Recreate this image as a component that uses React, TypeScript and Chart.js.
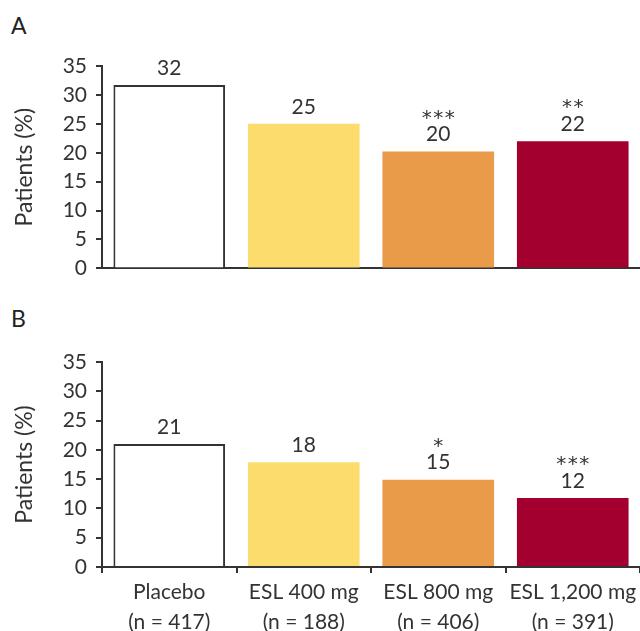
import React, { useEffect, useRef } from "react";
import { Chart, registerables } from "chart.js";

Chart.register(...registerables);

const categories: string[][] = [
  ["Placebo", "(n = 417)"],
  ["ESL 400 mg", "(n = 188)"],
  ["ESL 800 mg", "(n = 406)"],
  ["ESL 1,200 mg", "(n = 391)"],
];
const panelAValues = [31.7, 25, 20.2, 22];
const panelALabels = ["32", "25", "20", "22"];
const panelAStars = ["", "", "***", "**"];
const panelBValues = [21, 17.9, 14.9, 11.8];
const panelBLabels = ["21", "18", "15", "12"];
const panelBStars = ["", "", "*", "***"];
const barColors = ["#FFFFFF", "#FDDC6E", "#EA9B49", "#A3002F"];
const barBorderColors = ["#333333", "#FDDC6E", "#EA9B49", "#A3002F"];
const barBorderWidths = [2, 0, 0, 0];
const yMin = 0;
const yMax = 35;
const yStep = 5;
const yTitle = "Patients (%)";

const FONT = "Lato, 'Open Sans', sans-serif";
const INK = "#333333";

function makeLabelPlugin(labels: string[], stars: string[]) {
  return {
    id: "valueLabels",
    afterDatasetsDraw(chart: any) {
      const ctx = chart.ctx;
      const meta = chart.getDatasetMeta(0);
      ctx.save();
      ctx.textAlign = "center";
      ctx.fillStyle = INK;
      meta.data.forEach((bar: any, i: number) => {
        const x = bar.x;
        const y = bar.y;
        ctx.textBaseline = "middle";
        ctx.font = `21px ${FONT}`;
        ctx.fillText(labels[i], x, y - 17);
        const s = stars[i];
        if (s) {
          ctx.font = `20px 'DejaVu Sans', sans-serif`;
          ctx.textBaseline = "alphabetic";
          const n = s.length;
          for (let k = 0; k < n; k++) {
            const sx = x + (k - (n - 1) / 2) * 11.5;
            ctx.fillText(s[k], sx, y - 38 + 20 * 0.5);
          }
        }
      });
      ctx.restore();
    },
  };
}

function makeConfig(
  values: number[],
  labels: string[],
  stars: string[],
  showX: boolean,
  topPad: number,
  xHeight: number
): any {
  return {
    type: "bar",
    data: {
      labels: categories,
      datasets: [
        {
          data: values,
          backgroundColor: barColors,
          borderColor: barBorderColors,
          borderWidth: barBorderWidths,
          categoryPercentage: 1,
          barPercentage: 0.83,
        },
      ],
    },
    options: {
      responsive: false,
      animation: false,
      layout: { padding: { top: topPad, left: 0, right: 0, bottom: 0 } },
      plugins: {
        legend: { display: false },
        tooltip: { enabled: false },
        title: { display: false },
      },
      scales: {
        x: {
          offset: true,
          grid: {
            offset: true,
            drawOnChartArea: false,
            drawTicks: showX,
            tickLength: 6,
            color: INK,
            lineWidth: 2,
          },
          border: { display: true, color: INK, width: 2 },
          ticks: {
            display: showX,
            color: INK,
            font: { family: FONT, size: 21, lineHeight: 1.4 },
            padding: 5,
            maxRotation: 0,
            autoSkip: false,
          },
          afterFit: (s: any) => {
            s.height = xHeight;
            s.paddingLeft = 0;
            s.paddingRight = 0;
          },
        },
        y: {
          min: yMin,
          max: yMax,
          grid: {
            drawOnChartArea: false,
            drawTicks: true,
            tickLength: 6,
            color: INK,
            lineWidth: 2,
          },
          border: { display: true, color: INK, width: 2 },
          ticks: {
            stepSize: yStep,
            color: INK,
            font: { family: FONT, size: 21 },
            padding: 9,
          },
          title: {
            display: true,
            text: yTitle,
            color: INK,
            font: { family: FONT, size: 23 },
            padding: { top: 11, bottom: 0 },
          },
          afterFit: (s: any) => {
            s.width = 102;
          },
        },
      },
    },
    plugins: [makeLabelPlugin(labels, stars)],
  };
}

function Panel(props: {
  top: number;
  height: number;
  values: number[];
  labels: string[];
  stars: string[];
  showX: boolean;
  topPad: number;
  xHeight: number;
}) {
  const ref = useRef<HTMLCanvasElement>(null);
  useEffect(() => {
    if (!ref.current) return;
    const chart = new Chart(
      ref.current,
      makeConfig(props.values, props.labels, props.stars, props.showX, props.topPad, props.xHeight)
    );
    return () => chart.destroy();
  }, []);
  return (
    <canvas
      ref={ref}
      width={640}
      height={props.height}
      style={{ position: "absolute", left: 0, top: props.top, width: 640, height: props.height }}
    />
  );
}

const letterStyle: React.CSSProperties = {
  position: "absolute",
  left: 11,
  fontFamily: FONT,
  fontSize: 23,
  color: "#222",
  lineHeight: "24px",
};

export default function App() {
  return (
    <div
      style={{
        position: "absolute",
        left: 0,
        top: 0,
        width: 640,
        height: 631,
        background: "#ffffff",
        overflow: "hidden",
      }}
    >
      <div style={{ ...letterStyle, top: 13 }}>A</div>
      <div style={{ ...letterStyle, top: 306 }}>B</div>
      <Panel
        top={0}
        height={290}
        values={panelAValues}
        labels={panelALabels}
        stars={panelAStars}
        showX={false}
        topPad={66}
        xHeight={20}
      />
      <Panel
        top={300}
        height={331}
        values={panelBValues}
        labels={panelBLabels}
        stars={panelBStars}
        showX={true}
        topPad={62}
        xHeight={64}
      />
    </div>
  );
}
